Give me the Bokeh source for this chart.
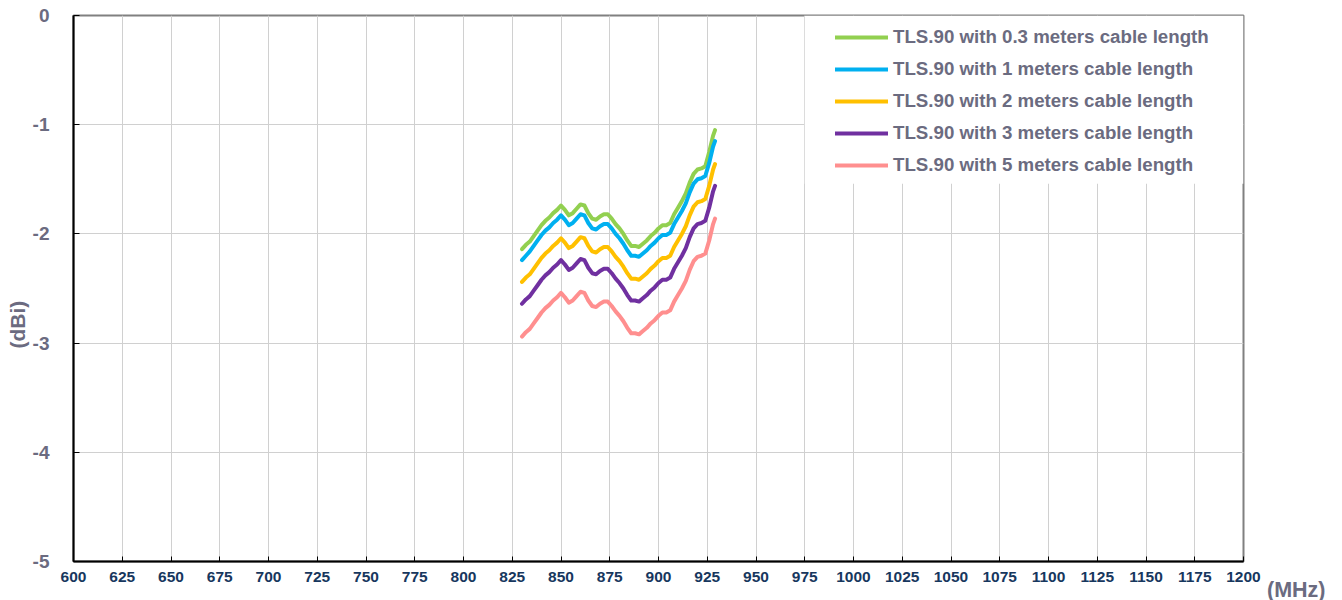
from bokeh.plotting import figure
from bokeh.models import (FixedTicker, Range1d, Legend, LegendItem, BoxAnnotation, Title)
from bokeh.embed import file_html
from bokeh.resources import INLINE

# ---------------- data ----------------
freq_mhz = [830, 832, 834, 836, 838, 840, 842, 844, 846, 848, 850, 852, 854, 856, 858,
            860, 862, 864, 866, 868, 870, 872, 874, 876, 878, 880, 882, 884, 886, 888,
            890, 892, 894, 896, 898, 900, 902, 904, 906, 908, 910, 912, 914, 916, 918,
            920, 922, 924, 926, 928, 929]

gain_03m = [-2.14, -2.10, -2.07, -2.02, -1.97, -1.92, -1.88, -1.85, -1.81, -1.78, -1.74,
            -1.78, -1.83, -1.81, -1.77, -1.73, -1.74, -1.81, -1.86, -1.87, -1.84, -1.82,
            -1.82, -1.86, -1.91, -1.95, -2.00, -2.06, -2.11, -2.11, -2.12, -2.09, -2.06,
            -2.02, -1.99, -1.95, -1.92, -1.92, -1.90, -1.82, -1.76, -1.70, -1.63, -1.53,
            -1.45, -1.41, -1.40, -1.38, -1.25, -1.10, -1.05]

gain_1m = [-2.24, -2.20, -2.16, -2.11, -2.06, -2.01, -1.97, -1.94, -1.90, -1.87, -1.83,
           -1.87, -1.92, -1.90, -1.86, -1.82, -1.83, -1.90, -1.95, -1.96, -1.93, -1.91,
           -1.91, -1.95, -2.00, -2.04, -2.09, -2.15, -2.20, -2.20, -2.21, -2.18, -2.15,
           -2.11, -2.08, -2.04, -2.01, -2.01, -1.99, -1.91, -1.85, -1.79, -1.72, -1.62,
           -1.54, -1.50, -1.49, -1.47, -1.35, -1.20, -1.15]

gain_2m = [-2.44, -2.40, -2.37, -2.32, -2.27, -2.22, -2.18, -2.15, -2.11, -2.08, -2.04,
           -2.08, -2.13, -2.11, -2.07, -2.03, -2.04, -2.11, -2.16, -2.17, -2.14, -2.12,
           -2.12, -2.16, -2.21, -2.25, -2.30, -2.36, -2.41, -2.41, -2.42, -2.39, -2.36,
           -2.32, -2.29, -2.25, -2.22, -2.22, -2.20, -2.12, -2.06, -2.00, -1.93, -1.83,
           -1.75, -1.71, -1.70, -1.68, -1.56, -1.41, -1.36]

gain_3m = [-2.64, -2.60, -2.57, -2.52, -2.47, -2.42, -2.38, -2.35, -2.31, -2.28, -2.24,
           -2.28, -2.33, -2.31, -2.27, -2.23, -2.24, -2.31, -2.36, -2.37, -2.34, -2.32,
           -2.32, -2.36, -2.41, -2.45, -2.50, -2.56, -2.61, -2.61, -2.62, -2.59, -2.56,
           -2.52, -2.49, -2.45, -2.42, -2.42, -2.40, -2.32, -2.26, -2.20, -2.13, -2.03,
           -1.95, -1.91, -1.90, -1.88, -1.76, -1.61, -1.56]

gain_5m = [-2.94, -2.90, -2.87, -2.82, -2.77, -2.72, -2.68, -2.65, -2.61, -2.58, -2.54,
           -2.58, -2.63, -2.61, -2.57, -2.53, -2.54, -2.61, -2.66, -2.67, -2.64, -2.62,
           -2.62, -2.66, -2.71, -2.75, -2.80, -2.86, -2.91, -2.91, -2.92, -2.89, -2.86,
           -2.82, -2.79, -2.75, -2.72, -2.72, -2.70, -2.62, -2.56, -2.50, -2.43, -2.33,
           -2.25, -2.21, -2.20, -2.18, -2.06, -1.91, -1.86]

series_names = ["TLS.90 with 0.3 meters cable length",
                "TLS.90 with 1 meters cable length",
                "TLS.90 with 2 meters cable length",
                "TLS.90 with 3 meters cable length",
                "TLS.90 with 5 meters cable length"]
series_values = [gain_03m, gain_1m, gain_2m, gain_3m, gain_5m]
series_colors = ["#92D050", "#00B0F0", "#FFC000", "#7030A0", "#FF8F8F"]

x_ticks = list(range(600, 1201, 25))
y_ticks = [-5, -4, -3, -2, -1, 0]
y_tick_labels = {v: str(v) for v in y_ticks}

# ---------------- figure ----------------
FONT = "Liberation Sans"
GREY_TXT = "#6B6B80"
NAVY_TXT = "#17375E"

p = figure(width=1342, height=600, output_backend="svg", toolbar_location=None,
           x_range=Range1d(600, 1200), y_range=Range1d(-5, 0),
           min_border_left=73, min_border_right=99, min_border_top=15, min_border_bottom=39)
p.background_fill_color = "white"
p.border_fill_color = "white"
p.outline_line_color = "#808080"
p.outline_line_width = 2

# grids
p.xgrid.ticker = FixedTicker(ticks=x_ticks)
p.ygrid.ticker = FixedTicker(ticks=y_ticks)
for g in (p.xgrid, p.ygrid):
    g.grid_line_color = "#D0D0D0"
    g.grid_line_width = 1

# axes
xa = p.xaxis[0]
xa.ticker = FixedTicker(ticks=x_ticks)
xa.axis_line_color = "black"
xa.axis_line_width = 2
xa.major_tick_in = 5
xa.major_tick_out = 0
xa.major_tick_line_color = "black"
xa.major_tick_line_width = 1
xa.minor_tick_line_color = None
xa.major_label_text_font = FONT
xa.major_label_text_font_style = "bold"
xa.major_label_text_font_size = "15.5px"
xa.major_label_text_color = NAVY_TXT
xa.major_label_standoff = 10

ya = p.yaxis[0]
ya.ticker = FixedTicker(ticks=y_ticks)
ya.major_label_overrides = y_tick_labels
ya.axis_line_color = "black"
ya.axis_line_width = 2
ya.major_tick_in = 6
ya.major_tick_out = 0
ya.major_tick_line_color = "black"
ya.major_tick_line_width = 1
ya.minor_tick_line_color = None
ya.major_label_text_font = FONT
ya.major_label_text_font_style = "bold"
ya.major_label_text_font_size = "19px"
ya.major_label_text_color = GREY_TXT
ya.major_label_standoff = 24

# white legend background box
p.add_layout(BoxAnnotation(left=975, right=1200, top=0, bottom=-1.54,
                           fill_color="white", fill_alpha=1.0, line_color=None,
                           level="underlay"))

# lines
items = []
for name, vals, col in zip(series_names, series_values, series_colors):
    r = p.line(freq_mhz, vals, line_color=col, line_width=4, line_join="round", line_cap="round")
    items.append(LegendItem(label=name, renderers=[r]))

legend = Legend(items=items, location=(762, 380), padding=0, margin=0, spacing=0,
                glyph_width=53, glyph_height=32, label_height=32, label_standoff=5,
                label_text_font=FONT, label_text_font_style="bold",
                label_text_font_size="18.7px", label_text_color=GREY_TXT,
                background_fill_alpha=0.0, border_line_color=None)
p.add_layout(legend)

# axis titles (as side-panel titles so they are not clipped by the frame)
p.add_layout(Title(text="(MHz)", align="right", offset=-82, standoff=-14,
                   vertical_align="top", text_font=FONT, text_font_style="bold",
                   text_font_size="21.5px", text_color=GREY_TXT), "below")
p.add_layout(Title(text="(dBi)", align="left", offset=213, standoff=0,
                   vertical_align="middle", text_font=FONT, text_font_style="bold",
                   text_font_size="21px", text_color=GREY_TXT), "left")

open("out.html", "w").write(file_html(p, INLINE))
